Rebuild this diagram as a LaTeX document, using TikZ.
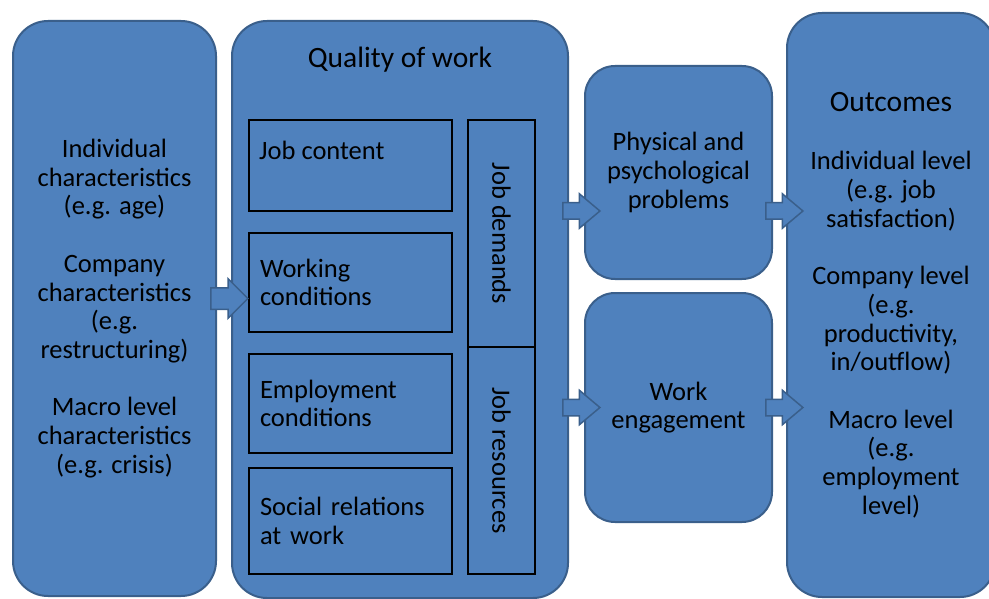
\documentclass[tikz,border=0pt]{standalone}
\usepackage{fontspec}
\setmainfont{Carlito}
\usetikzlibrary{shapes.arrows,calc}

\definecolor{boxblue}{HTML}{4F81BD}
\definecolor{boxedge}{HTML}{3A5F8B}

\tikzset{
	bluebox/.style={draw=boxedge,line width=2pt,fill=boxblue,rounded corners=35pt,align=center,inner sep=0pt},
	innerbox/.style={draw=black,line width=2pt,minimum width=203pt,text width=181pt,align=left,inner sep=11pt},
	sidebox/.style={draw=black,line width=2pt,rotate=-90,minimum width=227pt,minimum height=67pt,inner sep=0pt},
	flowarrow/.style={single arrow,draw=boxedge,line width=1.5pt,fill=boxblue,minimum height=37pt,single arrow head extend=9pt,inner sep=0pt},
}
\newcommand{\titlesize}{\fontsize{29.5}{34}\selectfont}

\begin{document}
\begin{tikzpicture}[x=1pt,y=-1pt,font=\fontsize{26.5}{28.7}\selectfont]
		\useasboundingbox (0,0) rectangle (989,599);
		
		% outer boxes
		\node[bluebox,minimum width=203pt,minimum height=575pt] (factors) at (114.5,308.5) {Individual\\characteristics\\(e.g. age)\\[28.7pt]Company\\characteristics\\(e.g.\\restructuring)\\[28.7pt]Macro level\\characteristics\\(e.g. crisis)};
		\node[bluebox,minimum width=336pt,minimum height=577pt] (quality) at (400,309.5) {};
		\node[font=\titlesize] (qualtitle) at ([yshift=-40pt]quality.north) {Quality of work};
		\node[bluebox,rounded corners=30pt,minimum width=187pt,minimum height=213pt] (problems) at (678.5,172.5) {Physical and\\psychological\\problems};
		\node[bluebox,rounded corners=30pt,minimum width=187pt,minimum height=229pt] (engage) at (678.5,407.5) {Work\\engagement};
		\node[bluebox,minimum width=208pt,minimum height=584pt] (outcomes) at (891,305) {{\titlesize Outcomes}\\[30pt]Individual level\\(e.g. job\\satisfaction)\\[28.7pt]Company level\\(e.g.\\productivity,\\in/outflow)\\[28.7pt]Macro level\\(e.g.\\employment\\level)};
		
		% quality of work parts
		\node[innerbox,minimum height=91pt,label={[anchor=north west,inner sep=0pt,xshift=11pt,yshift=-22pt]north west:Job content}] (content) at (350.5,165.5) {};
		\node[innerbox,minimum height=99pt] (working) at (350.5,282.5) {Working\\conditions};
		\node[innerbox,minimum height=99pt] (employ) at (350.5,403.5) {Employment\\conditions};
		\node[innerbox,minimum height=106pt] (social) at (350.5,521) {Social relations\\at work};
		\node[sidebox] (demands) at (501.5,233.5) {Job demands};
		\node[sidebox] (resources) at (501.5,460.5) {Job resources};
		
		% block arrows
		\node[flowarrow,inner ysep=10pt] (a1) at ($(factors.east)!0.5!(quality.west)+(0,-10.5)$) {};
		\node[flowarrow,inner ysep=7.5pt,single arrow tip angle=80] (a2) at ($(quality.east |- problems.west)!0.5!(problems.west)+(0,38.5)$) {};
		\node[flowarrow,inner ysep=7.5pt,single arrow tip angle=80] (a3) at ($(problems.east)!0.5!(outcomes.west |- problems.east)+(0,38.5)$) {};
		\node[flowarrow,inner ysep=7.5pt,single arrow tip angle=80] (a4) at ($(quality.east |- engage.west)!0.5!(engage.west)$) {};
		\node[flowarrow,inner ysep=7.5pt,single arrow tip angle=80] (a5) at ($(engage.east)!0.5!(outcomes.west |- engage.east)$) {};
		
	\end{tikzpicture}
\end{document}
